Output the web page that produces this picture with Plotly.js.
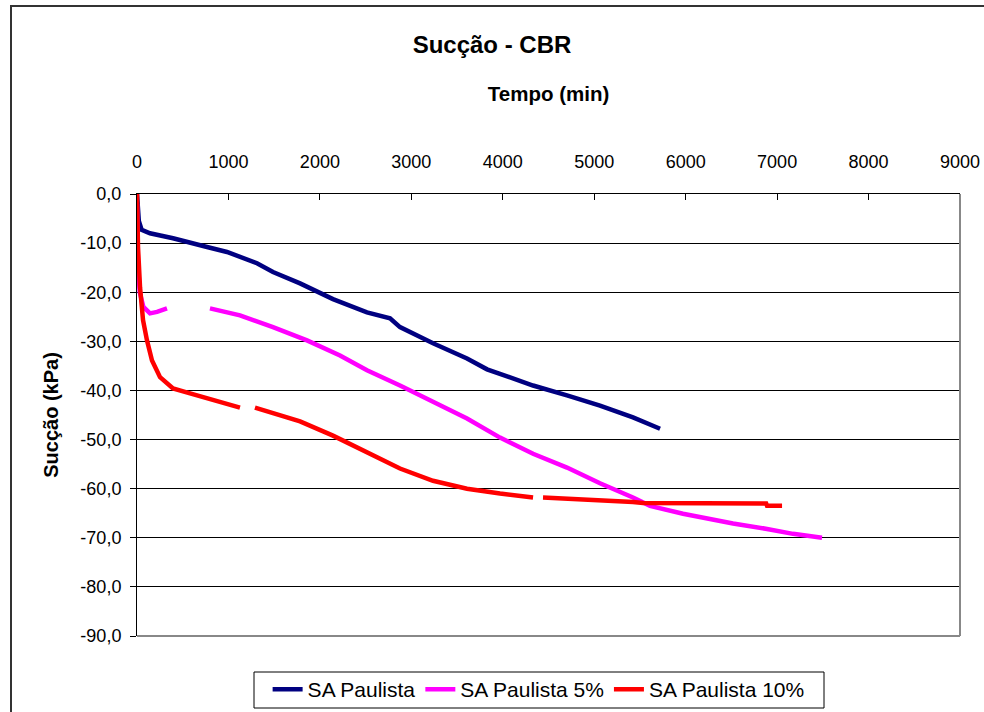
<!DOCTYPE html>
<html>
<head>
<meta charset="utf-8">
<script src="https://cdn.plot.ly/plotly-3.0.1.min.js"></script>
<style>body{margin:0;padding:0;background:#fff;overflow:hidden}#chart{width:984px;height:712px}</style>
</head>
<body>
<div id="chart"></div>
<script>
// SA Paulista
const tBlue = [0, 20, 51, 142, 394, 580, 766, 984, 1312, 1487, 1783, 2143, 2515, 2767, 2876, 3237, 3609, 3828, 4331, 4702, 5063, 5424, 5720];
const vBlue = [0, -5.5, -7.3, -8.0, -9.0, -9.8, -10.8, -11.8, -14.1, -15.9, -18.2, -21.4, -24.1, -25.3, -27.1, -30.4, -33.5, -35.7, -39.0, -41.0, -43.1, -45.5, -47.8];
// SA Paulista 5%
const tMag = [0, 10, 30, 70, 109, 142, 219, 328, 560, 798, 1126, 1487, 1859, 2220, 2515, 2876, 3237, 3609, 3970, 4331, 4702, 5063, 5424, 5610, 5971, 6518, 6890, 7174, 7491];
const vMag = [-2, -14, -20, -23, -23.7, -24.3, -24.0, -23.3, null, -23.3, -24.7, -27.1, -29.8, -32.9, -35.9, -39.0, -42.4, -45.7, -49.6, -52.9, -55.7, -58.9, -61.8, -63.5, -65.1, -67.1, -68.2, -69.2, -70.0];
// SA Paulista 10%
const tRed = [0, 11, 33, 66, 109, 164, 252, 394, 580, 831, 1126, 1200, 1290, 1487, 1783, 2143, 2515, 2876, 3237, 3609, 3970, 4331, 4390, 4440, 4702, 5063, 5424, 5534, 6409, 6880, 6890, 7054];
const vRed = [0, -10.8, -19, -25.7, -29.8, -33.9, -37.3, -39.6, -40.6, -42.0, -43.5, null, -43.5, -44.7, -46.3, -49.2, -52.7, -55.9, -58.4, -60.0, -61.0, -61.8, null, -61.8, -62.0, -62.4, -62.7, -62.9, -62.9, -63.0, -63.5, -63.5];

const yTickVals = [0, -10, -20, -30, -40, -50, -60, -70, -80, -90];
const yTickText = ['0,0', '-10,0', '-20,0', '-30,0', '-40,0', '-50,0', '-60,0', '-70,0', '-80,0', '-90,0'];
const xTickVals = [0, 1000, 2000, 3000, 4000, 5000, 6000, 7000, 8000, 9000];

const font = 'Liberation Sans, Arial, sans-serif';
const traces = [
  {x: tBlue, y: vBlue, name: 'SA Paulista', mode: 'lines', line: {color: '#000080', width: 4.5}},
  {x: tMag, y: vMag, name: 'SA Paulista 5%', mode: 'lines', line: {color: '#FF00FF', width: 4.5}},
  {x: tRed, y: vRed, name: 'SA Paulista 10%', mode: 'lines', line: {color: '#FF0000', width: 4.5}}
];

const layout = {
  width: 984, height: 712,
  margin: {l: 137, r: 24, t: 194, b: 76, autoexpand: false},
  paper_bgcolor: '#fff', plot_bgcolor: '#fff',
  font: {family: font, color: '#000', size: 18},
  title: {text: '<b>Sucção - CBR</b>', x: 0.5, xanchor: 'center', y: 1 - 45/712, yanchor: 'middle', yref: 'container', font: {size: 24, family: font}},
  showlegend: true,
  legend: {orientation: 'h', x: 0.488, xanchor: 'center', y: (636-669)/442, yanchor: 'top',
           borderwidth: 0, bgcolor: 'rgba(0,0,0,0)', font: {size: 21, family: font},
           itemwidth: 30, tracegroupgap: 0},
  xaxis: {
    side: 'top', range: [0, 9000], tickvals: xTickVals, ticktext: xTickVals.map(String),
    showgrid: false, zeroline: false, showline: true, linecolor: '#000', linewidth: 1,
    ticks: 'inside', ticklen: 6, tickcolor: '#000', tickfont: {size: 18},
    ticklabelstandoff: 18,
    title: {text: '<b>Tempo (min)</b>', font: {size: 20.5}, standoff: 44},
    automargin: false
  },
  yaxis: {
    range: [-90, 0], tickvals: yTickVals, ticktext: yTickText,
    showgrid: true, gridcolor: '#000', gridwidth: 1, zeroline: false,
    showline: true, linecolor: '#000', linewidth: 1,
    ticks: 'outside', ticklen: 6, tickcolor: '#000', tickfont: {size: 18},
    ticklabelstandoff: 5,
    title: {text: '<b>Sucção (kPa)</b>', font: {size: 20}, standoff: 16},
    automargin: false
  },
  shapes: [
    {type: 'line', xref: 'paper', yref: 'paper', x0: 1, x1: 1, y0: 0, y1: 1, line: {color: '#888', width: 2}},
    {type: 'line', xref: 'paper', yref: 'paper', x0: 0, x1: 1, y0: 0, y1: 0, line: {color: '#888', width: 2}},
    {type: 'line', xref: 'paper', yref: 'paper', x0: (10-137)/823, x1: (1000-137)/823, y0: (636-6)/442, y1: (636-6)/442, line: {color: '#333', width: 2}},
    {type: 'line', xref: 'paper', yref: 'paper', x0: (11-137)/823, x1: (11-137)/823, y0: (636-6)/442, y1: (636-720)/442, line: {color: '#333', width: 2}},
    {type: 'rect', xref: 'paper', yref: 'paper', x0: (254-137)/823, x1: (824-137)/823, y0: (636-672)/442, y1: (636-708)/442, line: {color: '#000', width: 1}, fillcolor: 'rgba(0,0,0,0)'}
  ]
};

Plotly.newPlot('chart', traces, layout, {displayModeBar: false, staticPlot: true});
</script>
</body>
</html>
